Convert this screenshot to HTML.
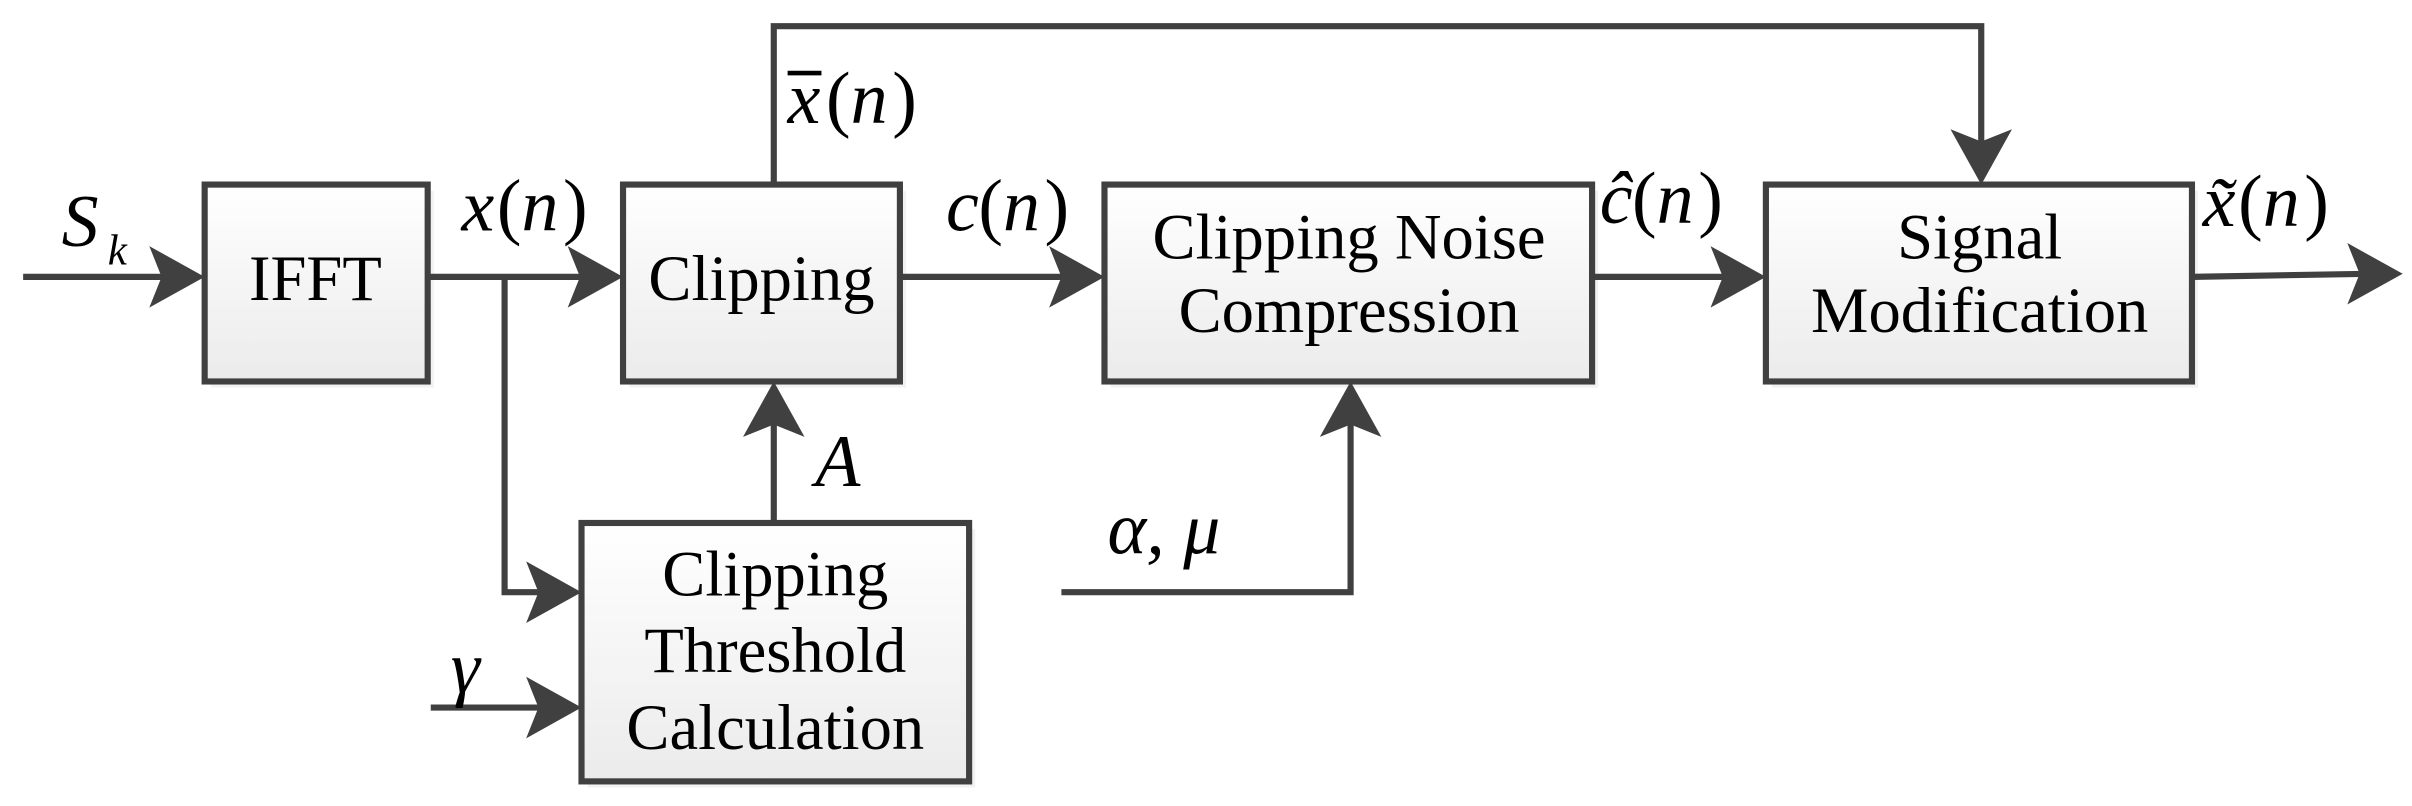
<!DOCTYPE html>
<html><head><meta charset="utf-8"><style>
html,body{margin:0;padding:0;background:#fff;}
svg{display:block;}
.t{font-family:"Liberation Serif",serif;font-size:42px;fill:#000;text-anchor:middle;}
.m{font-family:"Liberation Serif",serif;font-size:48px;font-style:italic;fill:#000;}
.mu{font-family:"Liberation Serif",serif;font-size:48px;fill:#000;}
</style></head><body>
<svg width="2412" height="806" viewBox="0 0 1568 524" xmlns="http://www.w3.org/2000/svg">
<defs>
<linearGradient id="g" x1="0" y1="0" x2="0" y2="1"><stop offset="0" stop-color="#ffffff"/><stop offset="1" stop-color="#ebebeb"/></linearGradient>
<g id="ar"><path d="M0,0 L-36,-20 L-28,0 L-36,20 Z" fill="#404040"/></g>
</defs>
<g fill="#f2f2f2">
<rect x="137" y="124" width="145" height="128"/><rect x="409" y="124" width="180" height="128"/><rect x="722" y="124" width="317" height="128"/><rect x="1152" y="124" width="277" height="128"/><rect x="382" y="344" width="252" height="168"/>
</g>
<g stroke="#404040" stroke-width="4" fill="url(#g)">
<rect x="133" y="120" width="145" height="128"/>
<rect x="405" y="120" width="180" height="128"/>
<rect x="718" y="120" width="317" height="128"/>
<rect x="1148" y="120" width="277" height="128"/>
<rect x="378" y="340" width="252" height="168"/>
</g>
<g stroke="#404040" stroke-width="4" fill="none">
<path d="M15,180 H110"/>
<path d="M278,180 H385"/>
<path d="M328,180 V385 H358"/>
<path d="M280,460 H358"/>
<path d="M503,120 V17 H1288 V100"/>
<path d="M503,340 V268"/>
<path d="M585,180 H698"/>
<path d="M690,385 H878 V268"/>
<path d="M1035,180 H1128"/>
<path d="M1425,180 L1540,178"/>
</g>
<use href="#ar" transform="translate(133,180)"/>
<use href="#ar" transform="translate(405,180)"/>
<use href="#ar" transform="translate(378,385)"/>
<use href="#ar" transform="translate(378,460)"/>
<use href="#ar" transform="translate(718,180)"/>
<use href="#ar" transform="translate(1148,180)"/>
<use href="#ar" transform="translate(1562,178)"/>
<use href="#ar" transform="translate(503,248) rotate(-90)"/>
<use href="#ar" transform="translate(878,248) rotate(-90)"/>
<use href="#ar" transform="translate(1288,120) rotate(90)"/>
<text class="t" x="205" y="195">IFFT</text>
<text class="t" x="495" y="195">Clipping</text>
<text class="t" x="877" y="168">Clipping Noise</text>
<text class="t" x="877" y="216">Compression</text>
<text class="t" x="1287" y="168">Signal</text>
<text class="t" x="1287" y="216">Modification</text>
<text class="t" x="504" y="387">Clipping</text>
<text class="t" x="504" y="437">Threshold</text>
<text class="t" x="504" y="487">Calculation</text>
<text class="m" x="40" y="160">S</text><text class="m" x="70" y="172" style="font-size:28px">k</text>
<text class="m" x="300" y="150">x</text><text class="mu" x="323" y="150">(</text><text class="m" x="339" y="150">n</text><text class="mu" x="366" y="150">)</text>
<text class="m" x="512" y="80">x</text><rect x="512" y="46" width="22" height="3" fill="#000"/><text class="mu" x="537" y="80">(</text><text class="m" x="553" y="80">n</text><text class="mu" x="580" y="80">)</text>
<text class="m" x="615" y="150">c</text><text class="mu" x="636" y="150">(</text><text class="m" x="652" y="150">n</text><text class="mu" x="679" y="150">)</text>
<text class="m" x="1040" y="145">ĉ</text><text class="mu" x="1061" y="145">(</text><text class="m" x="1077" y="145">n</text><text class="mu" x="1104" y="145">)</text>
<text class="m" x="1432" y="147">x̃</text><text class="mu" x="1455" y="147">(</text><text class="m" x="1471" y="147">n</text><text class="mu" x="1498" y="147">)</text>
<text class="m" x="530" y="316">A</text>
<text class="m" x="720" y="360">α, μ</text>
<text class="m" x="293" y="450">γ</text>
</svg>
</body></html>
